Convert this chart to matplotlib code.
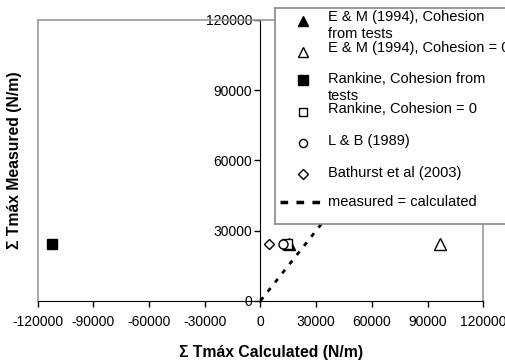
import numpy as np
import matplotlib.pyplot as plt
from matplotlib.lines import Line2D

plt.rcParams['font.family'] = ['Liberation Sans', 'DejaVu Sans']
plt.rcParams['axes.unicode_minus'] = False

# sum of Tmax per method: calculated (x) vs measured (y), N/m
series_labels = ['E & M (1994), Cohesion\nfrom tests', 'E & M (1994), Cohesion = 0',
                 'Rankine, Cohesion from\ntests', 'Rankine, Cohesion = 0',
                 'L & B (1989)', 'Bathurst et al (2003)']
calc_values = [15600, 96600, -112200, 14300, 12300, 4400]
meas_values = [24200, 24200, 24200, 24200, 24200, 24200]
markers = ['^', '^', 's', 's', 'o', 'D']
filled = [True, False, True, False, False, False]
msizes = [8, 8, 7.5, 6.5, 6.5, 5.5]

line_x = [0, 120000]
line_y = [0, 120000]
ticks = [-120000, -90000, -60000, -30000, 0, 30000, 60000, 90000, 120000]
yticks = [0, 30000, 60000, 90000, 120000]

fig = plt.figure(figsize=(5.06, 3.64), dpi=100)
ax = fig.add_axes([0.0745, 0.1739, 0.8806, 0.7712])

ax.plot(line_x, line_y, color='black', lw=2, linestyle=(0, (1.6, 2.6)), zorder=2)
for x, y, m, f, s in zip(calc_values, meas_values, markers, filled, msizes):
    ax.plot(x, y, marker=m, ms=s, mfc='black' if f else 'white', mec='black', mew=1,
            linestyle='none', zorder=3)

ax.set_xlim(-120000, 120000)
ax.set_ylim(0, 120000)
ax.set_xticks(ticks)
ax.set_yticks(yticks)
ax.spines['left'].set_position(('data', 0))
ax.spines['left'].set_color('black')
ax.spines['bottom'].set_color('black')
for side in ['top', 'right']:
    ax.spines[side].set_color('#999999')
    ax.spines[side].set_linewidth(1.2)
ax.axvline(-120000, color='#999999', lw=1.2, clip_on=False)
ax.tick_params(axis='both', direction='out', length=4, width=1, labelsize=10, pad=2)
ax.tick_params(axis='x', pad=6)

fig.text(271 / 506, 1 - 352 / 364, 'Σ Tmáx Calculated (N/m)', ha='center', va='center',
         fontsize=11.3, fontweight='bold')
fig.text(15 / 506, 1 - 160 / 364, 'Σ Tmáx Measured (N/m)', ha='center', va='center',
         rotation=90, fontsize=11.3, fontweight='bold')

# legend box drawn as its own axes, units in pixels from its top-left corner
lg = fig.add_axes([275 / 506, 1 - 224 / 364, 260 / 506, 216 / 364])
lg.set_xlim(0, 260)
lg.set_ylim(216, 0)
lg.set_xticks([])
lg.set_yticks([])
for sp in lg.spines.values():
    sp.set_color('#888888')
    sp.set_linewidth(1.2)
entry_y = [12.7, 43.7, 72, 103.7, 135, 166]
text_y = [9.3, 40.3, 71.3, 101.3, 132.7, 165]
for i, lab in enumerate(series_labels):
    lg.plot(28, entry_y[i], marker=markers[i], ms=msizes[i] * 0.9,
            mfc='black' if filled[i] else 'white', mec='black', mew=1, linestyle='none')
    for j, part in enumerate(lab.split('\n')):
        lg.text(53, text_y[i] + 16.5 * j, part, fontsize=10.5, va='center', ha='left')
lg.plot([5, 51], [193.7, 193.7], color='black', lw=2.5, linestyle=(0, (2.2, 2.4)))
lg.text(53, 194, 'measured = calculated', fontsize=10.5, va='center', ha='left')

fig.savefig('out.png', dpi=100)
